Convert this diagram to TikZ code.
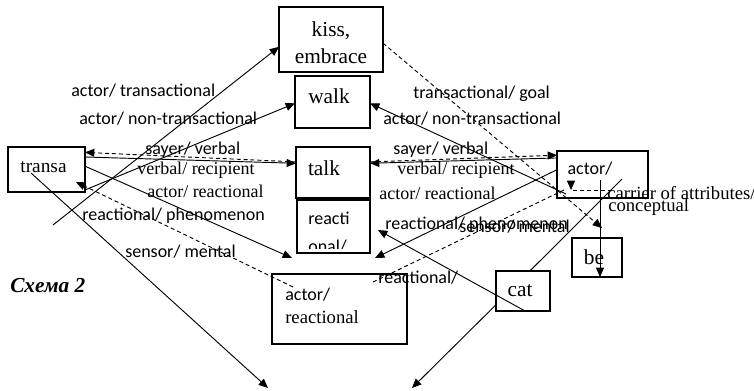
\documentclass[tikz,border=0pt]{standalone}
\usepackage{fontspec}
\setmainfont{Liberation Serif}
\newfontfamily\lsans{Carlito}
\usetikzlibrary{arrows.meta}
\tikzset{
 bx/.style={draw, line width=0.8pt, inner sep=0pt, outer sep=0pt},
 con/.style={line width=0.7pt},
 arr/.style={con, -{Triangle[length=7pt,width=6pt]}},
 dsh/.style={dash pattern=on 3pt off 2.2pt},
 sl/.style={font=\lsans\fontsize{13.5}{16}\selectfont, inner sep=0pt, anchor=base west},
 sr/.style={font=\fontsize{13.5}{16}\selectfont, inner sep=0pt, anchor=base west},
 bt/.style={font=\fontsize{16}{20}\selectfont, inner sep=0pt},
}
\begin{document}
\begin{tikzpicture}[x=0.75pt,y=-0.75pt]
\useasboundingbox (0,0) rectangle (754,390);
% boxes
\node[bx, minimum width=78pt, minimum height=48.75pt] (kiss) at (331,39.5) {};
\node[bt, anchor=base] (kisst1) at (331,36) {kiss,};
\node[bt, anchor=base] (kisst2) at (331,63) {embrace};
\node[bx, minimum width=56.25pt, minimum height=39pt] (walk) at (332.5,102) {};
\node[bt] (walkt) at (329,96) {walk};
\node[bx, minimum width=55.5pt, minimum height=38.25pt] (talk) at (333,172.5) {};
\node[bt] (talkt) at (324,168) {talk};
\begin{scope}
\clip (297,200) rectangle (370,248);
\node[sl] (rt1) at (308,224) {reacti};
\node[sl] (rt2) at (308,252) {onal/};
\end{scope}
\node[bx, minimum width=54.75pt, minimum height=39.75pt] (react) at (333.5,226.5) {};
\node[bx, minimum width=57.75pt, minimum height=33.75pt] (transa) at (46.5,169.5) {};
\node[font=\fontsize{14.5}{16}\selectfont, inner sep=0pt] (transat) at (43.5,167) {transa};
\node[bx, minimum width=68.25pt, minimum height=35.25pt] (actorR) at (602.5,174.5) {};
\node[sl, anchor=center] (actorRt) at (590,169) {actor/};
\node[bx, minimum width=37.5pt, minimum height=29.25pt] (be) at (597,257.5) {};
\node[bt] (bet) at (594,257) {be};
\node[bx, minimum width=40.5pt, minimum height=30pt] (cat) at (523,291) {};
\node[bt] (catt) at (520,291) {cat};
\node[bx, minimum width=101.25pt, minimum height=52.5pt] (actReact) at (339.5,309) {};
\node[sl] (art1) at (285,300) {actor/};
\node[sr, font=\fontsize{14}{16}\selectfont] (art2) at (285,323) {reactional};
% connectors
\coordinate (c1) at (53,225);
\draw[arr] (c1) -- (kiss.188);
\draw[arr] (transa.-28) -- (walk.182);
\draw[arr,dsh] (talk.164) -- (transa.24);
\draw[arr] (transa.18) -- (talk.166);
\coordinate (c5) at (292,258);
\draw[arr] (transa.5) -- (c5);
\coordinate (c6a) at (293,287);
\coordinate (c6b) at (76,182);
\draw[arr,dsh] (c6a) -- (c6b);
\coordinate (c7a) at (31,173);
\coordinate (c7b) at (268,388);
\draw[arr] (c7a) -- (c7b);
\coordinate (c8) at (602,228);
\draw[arr,dsh] (kiss.-4) -- (c8);
\coordinate (c9) at (566,194);
\draw[arr] (c9) -- (walk.-2);
\draw[arr,dsh] (talk.16) -- (actorR.157);
\draw[arr] (actorR.160) -- (talk.14);
\coordinate (c11) at (375,258);
\draw[arr] (actorR.174) -- (c11);
\coordinate (c12a) at (373,282);
\coordinate (c12b) at (566,189);
\draw[con,dsh] (c12a) -- (c12b);
\coordinate (c12c) at (612,190);
\coordinate (c12d) at (571,190);
\draw[con,dsh] (c12c) -- (c12d);
\draw[arr] ([yshift=6.75pt]c12d) -- (c12d);
\coordinate (c13) at (600,180);
\draw[arr] (c13) -- (c13 |- be.south);
\coordinate (c14) at (622,179);
\draw[con] (cat.71) -- (c14);
\coordinate (c15) at (378,230);
\draw[arr] (cat.-84) -- (c15);
\coordinate (c16) at (412,388);
\draw[arr] (cat.207) -- (c16);
% labels left
\node[sl] (l1) at (71,96) {actor/ transactional};
\node[sl] (l2) at (79,124) {actor/ non-transactional};
\node[sl] (l3) at (145,154) {sayer/ verbal};
\node[sr] (l4) at (137,174) {verbal/ recipient};
\node[sr] (l5) at (147,197) {actor/ reactional};
\node[sl] (l6) at (82,220) {reactional/ phenomenon};
\node[sl] (l7) at (125,257) {sensor/ mental};
\node[font=\bfseries\itshape\fontsize{16}{19}\selectfont, inner sep=0pt, anchor=base west] (schema) at (10,292) {Схема 2};
% labels right
\node[sl] (r1) at (413,98) {transactional/ goal};
\node[sl] (r2) at (383,124) {actor/ non-transactional};
\node[sl] (r3) at (393,154) {sayer/ verbal};
\node[sr] (r4) at (397,174) {verbal/ recipient};
\node[sr] (r5) at (379,199) {actor/ reactional};
\node[sl] (r6) at (385,229) {reactional/ phenomenon};
\node[sl] (r7) at (459,232) {sensor/ mental};
\node[sr, font=\fontsize{14}{16}\selectfont] (r8) at (607,199) {carrier of attributes/};
\node[sr, font=\fontsize{14}{16}\selectfont] (r9) at (608,211) {conceptual};
\node[sl] (r10) at (378,283) {reactional/};
\end{tikzpicture}
\end{document}
